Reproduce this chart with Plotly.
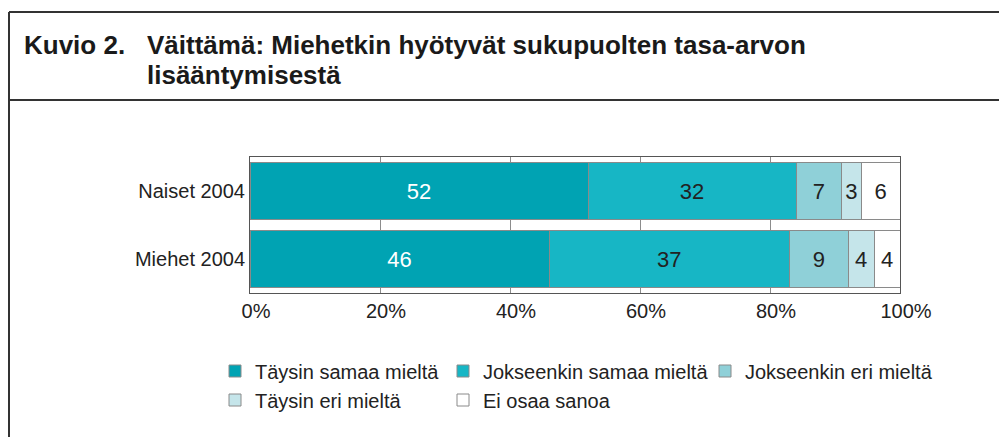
import plotly.graph_objects as go

# ---- data ----
groups = ["Naiset 2004", "Miehet 2004"]
series_names = ["Täysin samaa mieltä", "Jokseenkin samaa mieltä", "Jokseenkin eri mieltä",
                "Täysin eri mieltä", "Ei osaa sanoa"]
taysin_samaa = [52, 46]
jokseenkin_samaa = [32, 37]
jokseenkin_eri = [7, 9]
taysin_eri = [3, 4]
ei_osaa = [6, 4]
x_ticks = [0, 20, 40, 60, 80, 100]
x_tick_labels = ["0%", "20%", "40%", "60%", "80%", "100%"]
title_num = "Kuvio 2."
title_line1 = "Väittämä: Miehetkin hyötyvät sukupuolten tasa-arvon"
title_line2 = "lisääntymisestä"

# ---- style ----
W, H = 999, 437
L, R, T, B = 250, 99, 157, 144
colors = ["#00A3B3", "#17B6C5", "#8FD0D8", "#C5E5EA", "#FFFFFF"]
text_colors = ["#FFFFFF", "#222222", "#222222", "#222222", "#222222"]
FONT = "Liberation Sans"
outline = "#8A8A8A"

pw, ph = W - L - R, H - T - B
def px(x):
    return (x - L) / pw
def py(y):
    return (H - B - y) / ph

values = [taysin_samaa, jokseenkin_samaa, jokseenkin_eri, taysin_eri, ei_osaa]
fig = go.Figure()
legend_pos = [(228, 371), (456, 371), (718, 371), (228, 400), (456, 400)]
for i, (name, vals) in enumerate(zip(series_names, values)):
    lg = "legend" if i == 0 else f"legend{i+1}"
    fig.add_trace(go.Bar(
        y=groups, x=vals, name=name, orientation="h",
        marker=dict(color=colors[i], line=dict(color=outline, width=1)),
        text=[str(v) for v in vals], textposition="inside",
        insidetextanchor="middle", textangle=0,
        textfont=dict(family=FONT, size=22, color=text_colors[i]),
        legend=lg, hoverinfo="skip",
    ))

layout_legends = {}
for i, (lx, ly) in enumerate(legend_pos):
    key = "legend" if i == 0 else f"legend{i+1}"
    layout_legends[key] = dict(
        xref="container", yref="container",
        x=(lx - 13) / W, y=1 - ly / H, xanchor="left", yanchor="middle",
        font=dict(family=FONT, size=20, color="#222222"),
        bgcolor="rgba(0,0,0,0)", borderwidth=0,
    )

fig.update_layout(
    width=W, height=H,
    margin=dict(l=L, r=R, t=T, b=B, pad=0, autoexpand=False),
    paper_bgcolor="white", plot_bgcolor="white",
    barmode="stack", bargap=0.156,
    showlegend=True,
    xaxis=dict(range=[0, 100], tickvals=x_ticks, ticktext=x_tick_labels,
               showgrid=True, gridcolor="#8C8C8C", gridwidth=1,
               showline=True, mirror=True, linecolor="#555555", linewidth=1,
               ticks="", zeroline=False, automargin=False, ticklabelshift=6,
               tickfont=dict(family=FONT, size=20, color="#222222"), fixedrange=True),
    yaxis=dict(categoryorder="array", categoryarray=groups, range=[1.5, -0.5],
               showgrid=False, showline=True, mirror=True, linecolor="#555555", linewidth=1,
               ticks="", automargin=False,
               tickfont=dict(family=FONT, size=20, color="#222222"), fixedrange=True),
    **layout_legends,
)

# frame lines of the figure box
line_style = dict(color="#333333", width=2)
fig.add_shape(type="line", xref="paper", yref="paper", x0=px(9), x1=px(999), y0=py(12), y1=py(12), line=line_style)
fig.add_shape(type="line", xref="paper", yref="paper", x0=px(9), x1=px(999), y0=py(100), y1=py(100), line=line_style)
fig.add_shape(type="line", xref="paper", yref="paper", x0=px(9), x1=px(9), y0=py(12), y1=py(437), line=line_style)

title_font = dict(family=FONT, size=26, color="#1A1A1A")
for txt, tx, ty in [("<b>" + title_num + "</b>", 22, 45), ("<b>" + title_line1 + "</b>", 145, 45),
                    ("<b>" + title_line2 + "</b>", 145, 75)]:
    fig.add_annotation(xref="paper", yref="paper", x=px(tx), y=py(ty), text=txt,
                       showarrow=False, xanchor="left", yanchor="middle", font=title_font)

fig.write_html("out.html", config={"displayModeBar": False, "staticPlot": True},
               post_script="document.body.style.margin='0';document.body.style.overflow='hidden';")
